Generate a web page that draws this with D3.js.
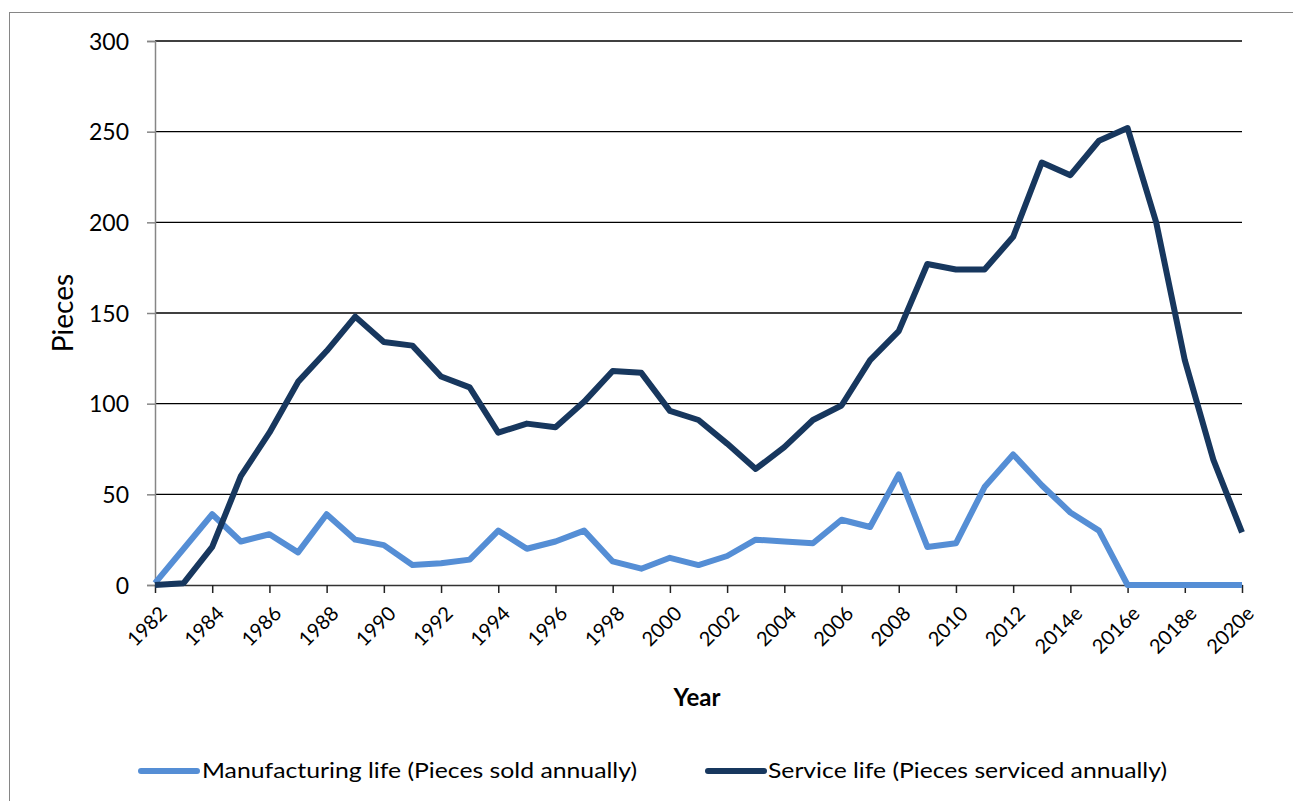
<!DOCTYPE html>
<html><head><meta charset="utf-8">
<script src="https://cdn.jsdelivr.net/npm/d3@7"></script>
<style>body{margin:0;background:#fff;}svg{display:block;font-family:Lato,"Open Sans",sans-serif;}</style>
</head><body><svg id="c" width="1293" height="801"></svg>
<script>
const years = ["1982","1983","1984","1985","1986","1987","1988","1989","1990","1991","1992","1993","1994","1995","1996","1997","1998","1999","2000","2001","2002","2003","2004","2005","2006","2007","2008","2009","2010","2011","2012","2013","2014e","2015e","2016e","2017e","2018e","2019e","2020e"];
const tickLabels = ["1982","1984","1986","1988","1990","1992","1994","1996","1998","2000","2002","2004","2006","2008","2010","2012","2014e","2016e","2018e","2020e"];
const manufacturing = [1,20,39,24,28,18,39,25,22,11,12,14,30,20,24,30,13,9,15,11,16,25,24,23,36,32,61,21,23,54,72,55,40,30,0,0,0,0,0];
const service = [0,1,21,60,84,112,129,148,134,132,115,109,84,89,87,101,118,117,96,91,78,64,76,91,99,124,140,177,174,174,192,233,226,245,252,200,124,69,29];
const yTicks = [0,50,100,150,200,250,300];
const seriesNames = ["Manufacturing life (Pieces sold annually)","Service life (Pieces serviced annually)"];
const colors = ["#558ED5","#17375E"];

const svg = d3.select("#c");
const L=155, R=1242, T=41, B=585;
svg.append("rect").attr("x",9.5).attr("y",12.5).attr("width",1290).attr("height",800).attr("fill","none").attr("stroke","#868686");

const x = d3.scalePoint().domain(years).range([L,R]);
const y = d3.scaleLinear().domain([0,300]).range([B,T]);

// gridlines
svg.append("g").selectAll("line").data(yTicks.filter(d=>d>0)).join("line")
  .attr("x1",L).attr("x2",R).attr("y1",d=>y(d)).attr("y2",d=>y(d))
  .attr("stroke","#000").attr("stroke-width",1.3);

// y axis
const ya = svg.append("g").attr("transform",`translate(${L},0)`)
  .call(d3.axisLeft(y).tickValues(yTicks).tickSize(8).tickPadding(18));
ya.select(".domain").attr("stroke","#868686").attr("stroke-width",1.5);
ya.selectAll(".tick line").attr("stroke","#868686").attr("stroke-width",1.5);
ya.selectAll("text").attr("font-size",23).attr("fill","#000").attr("font-family","Lato,sans-serif").attr("dy","0.36em");

// x axis
const xa = svg.append("g").attr("transform",`translate(0,${B})`)
  .call(d3.axisBottom(x).tickValues(tickLabels).tickSize(8).tickSizeOuter(0));
xa.select(".domain").attr("stroke","#333").attr("stroke-width",1.5);
xa.selectAll(".tick line").attr("stroke","#222").attr("stroke-width",1.5);
xa.selectAll("text").attr("font-size",20).attr("fill","#000").attr("font-family","Lato,sans-serif")
  .attr("text-anchor","end").attr("dy",0).attr("dx",0)
  .attr("transform","translate(5,22) rotate(-45)");

// lines
const line = d3.line().x((d,i)=>x(years[i])).y(d=>y(d));
[manufacturing, service].forEach((s,k)=>{
  svg.append("path").datum(s).attr("d",line).attr("fill","none")
    .attr("stroke",colors[k]).attr("stroke-width",6).attr("stroke-linejoin","round").attr("stroke-linecap","butt");
});

// axis titles
svg.append("text").attr("transform",`translate(73,${(T+B)/2}) rotate(-90)`).attr("text-anchor","middle")
  .attr("font-size",28).text("Pieces");
svg.append("text").attr("x",697).attr("y",706).attr("text-anchor","middle").attr("font-size",24).attr("font-weight","bold").text("Year");

// legend
const lg = [[141,202],[708,768]];
seriesNames.forEach((n,k)=>{
  svg.append("line").attr("x1",lg[k][0]).attr("x2",lg[k][0]+56).attr("y1",771).attr("y2",771)
    .attr("stroke",colors[k]).attr("stroke-width",6).attr("stroke-linecap","round");
  svg.append("text").attr("x",lg[k][1]).attr("y",778).attr("font-size",21).attr("textLength", k==0?435:399).attr("lengthAdjust","spacingAndGlyphs").text(n);
});
</script></body></html>
